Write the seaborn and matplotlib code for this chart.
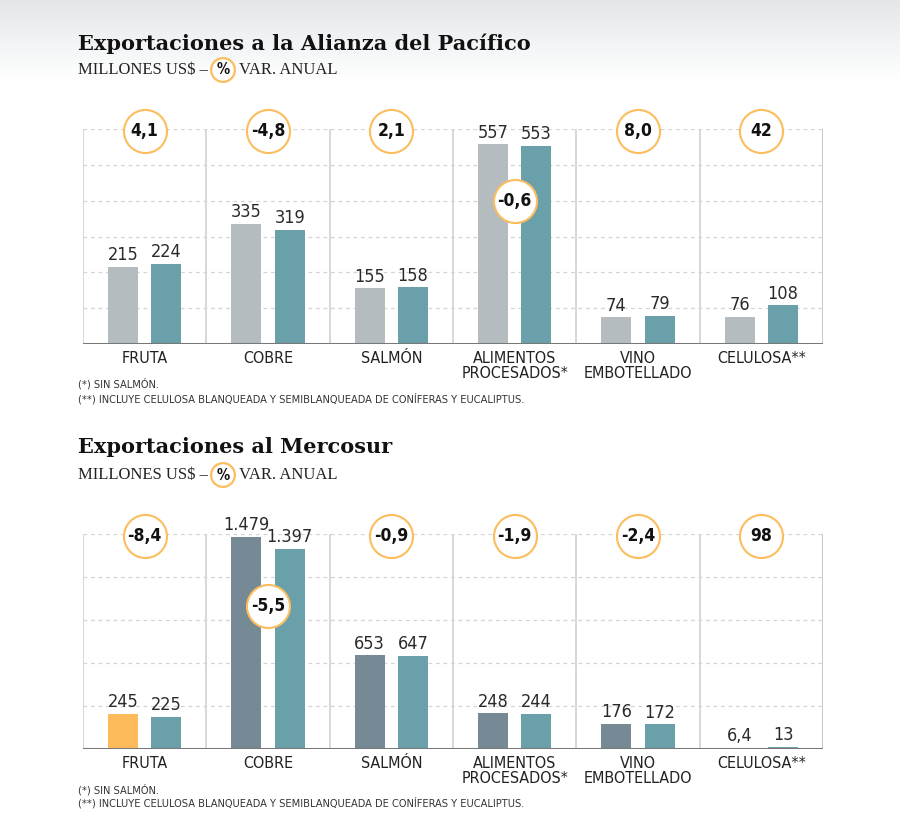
import numpy as np
import pandas as pd
import matplotlib
matplotlib.use("Agg")
import matplotlib.pyplot as plt
import seaborn as sns
from matplotlib.colors import LinearSegmentedColormap

# ---------------- data ----------------
categories = ["FRUTA", "COBRE", "SALMÓN", "ALIMENTOS\nPROCESADOS*", "VINO\nEMBOTELLADO", "CELULOSA**"]
periods = ["Anterior", "Actual"]

pacifico_prev = [215, 335, 155, 557, 74, 76]
pacifico_curr = [224, 319, 158, 553, 79, 108]
pacifico_var = ["4,1", "-4,8", "2,1", "-0,6", "8,0", "42"]
pacifico_ticks = [0, 100, 200, 300, 400, 500, 600]

mercosur_prev = [245, 1479, 653, 248, 176, 6.4]
mercosur_curr = [225, 1397, 647, 244, 172, 13]
mercosur_var = ["-8,4", "-5,5", "-0,9", "-1,9", "-2,4", "98"]
mercosur_ticks = [0, 300, 600, 900, 1200, 1500]

title_top = "Exportaciones a la Alianza del Pacífico"
title_bottom = "Exportaciones al Mercosur"
subtitle_left = "MILLONES US$ –"
subtitle_right = "VAR. ANUAL"
notes = ["(*) SIN SALMÓN.",
         "(**) INCLUYE CELULOSA BLANQUEADA Y SEMIBLANQUEADA DE CONÍFERAS Y EUCALIPTUS."]

# ---------------- style ----------------
sns.set_theme(style="white")
SANS = ["DejaVu Sans"]
SERIF = ["DejaVu Serif"]
plt.rcParams["font.family"] = SANS
plt.rcParams["font.stretch"] = "condensed"

GRAY = "#b5bcbf"
TEAL = "#6aa0a9"
DARK = "#758a94"
ORANGE = "#fdba5a"
CIRCLE_EDGE = "#fbbd5e"
GRID = "#d4d4d4"

W, H = 900, 831
fig = plt.figure(figsize=(W / 100, H / 100), dpi=100)

# background gradient at the top
bg = fig.add_axes([0, 0, 1, 1], zorder=-10)
bg.axis("off")
yy = np.linspace(0, H, H)
grad = np.clip(yy / 80.0, 0, 1)[:, None]
cmap = LinearSegmentedColormap.from_list("bg", ["#e3e7ea", "#ffffff"])
bg.imshow(grad, cmap=cmap, extent=[0, 1, 0, 1], aspect="auto", vmin=0, vmax=1)
bg.set_xlim(0, 1)
bg.set_ylim(0, 1)


def fx(px):
    return px / W


def fy(py):
    return 1 - py / H


def fmt(v):
    if float(v).is_integer():
        return f"{int(v):,}".replace(",", ".")
    return str(v).replace(".", ",")


def header(y_title, y_sub, title):
    fig.text(fx(78), fy(y_title), title, family=SERIF, fontweight="bold",
             fontstretch="normal", fontsize=15, color="#111111", va="center", ha="left")
    fig.text(fx(78), fy(y_sub), subtitle_left, family=["Liberation Serif"],
             fontstretch="normal", fontsize=12, color="#222222", va="center", ha="left")
    fig.text(fx(223), fy(y_sub), "%", family=SANS, fontweight="bold",
             fontsize=10.5, color="#111111", va="center", ha="center",
             bbox=dict(boxstyle="circle,pad=0.3", fc="white", ec=CIRCLE_EDGE, lw=1.6))
    fig.text(fx(239), fy(y_sub), subtitle_right, family=["Liberation Serif"],
             fontstretch="normal", fontsize=12, color="#222222", va="center", ha="left")


def footnotes(y1, y2):
    fig.text(fx(78), fy(y1), notes[0], fontsize=7.9, color="#333333", va="center")
    fig.text(fx(78), fy(y2), notes[1], fontsize=7.9, color="#333333", va="center")


def panel(ax, prev, curr, var, ticks, colors, highlight=None):
    df = pd.DataFrame({
        "category": categories * 2,
        "period": [periods[0]] * len(categories) + [periods[1]] * len(categories),
        "value": list(prev) + list(curr),
    })
    sns.barplot(data=df, x="category", y="value", hue="period", order=categories,
                hue_order=periods, palette=colors, width=0.704, gap=0.31,
                saturation=1, errorbar=None, legend=False, linewidth=0, ax=ax, zorder=3)
    if highlight is not None:
        idx, col = highlight
        ax.containers[0][idx].set_facecolor(col)
    top = ticks[-1]
    ax.set_ylim(0, top)
    ax.set_xlim(-0.5, len(categories) - 0.5)
    ax.set_yticks(ticks)
    ax.set_facecolor("none")
    ax.yaxis.grid(True, linestyle=(0, (3, 3)), color=GRID, lw=0.9, zorder=0)
    ax.xaxis.grid(False)
    for s in ax.spines.values():
        s.set_visible(False)
    ax.vlines(np.arange(-0.5, len(categories) - 1, 1.0), 0, top, color=GRID, lw=1.3, zorder=1)
    ax.vlines([len(categories) - 0.5], 0, top, color="#c4c4c4", lw=1.3, zorder=1)
    ax.axhline(0, color="#787878", lw=2.2, zorder=4)
    ax.tick_params(axis="y", length=0, labelleft=False)
    ax.tick_params(axis="x", length=0, pad=5, labelsize=11.5, labelcolor="#222222")
    ax.set_xlabel("")
    ax.set_ylabel("")
    for lab in ax.get_xticklabels():
        lab.set_linespacing(1.0)
        lab.set_fontstretch("condensed")
    for cont, vals in zip(ax.containers, [prev, curr]):
        ax.bar_label(cont, labels=[fmt(v) for v in vals], padding=2,
                     fontsize=13, color="#2a2a2a", zorder=5)
    # circles with annual variation
    for i, (p, c, t) in enumerate(zip(prev, curr, var)):
        if max(p, c) > 0.85 * top:
            y = 0.665 * top
        else:
            y = top * 0.99
        ax.scatter([i], [y], s=960, facecolor="white", edgecolor=CIRCLE_EDGE,
                   linewidths=1.5, zorder=6, clip_on=False)
        ax.text(i, y, t, ha="center", va="center", fontsize=12.5,
                fontweight="bold", color="#111111", zorder=7)


ax1 = fig.add_axes([fx(83), fy(344), fx(740), 215 / H])
panel(ax1, pacifico_prev, pacifico_curr, pacifico_var, pacifico_ticks, [GRAY, TEAL])
header(44, 70, title_top)
footnotes(384, 399)

ax2 = fig.add_axes([fx(83), fy(749), fx(740), 215 / H])
panel(ax2, mercosur_prev, mercosur_curr, mercosur_var, mercosur_ticks, [DARK, TEAL],
      highlight=(0, ORANGE))
header(447, 475, title_bottom)
footnotes(790, 803)

fig.savefig("out.png", dpi=100)
